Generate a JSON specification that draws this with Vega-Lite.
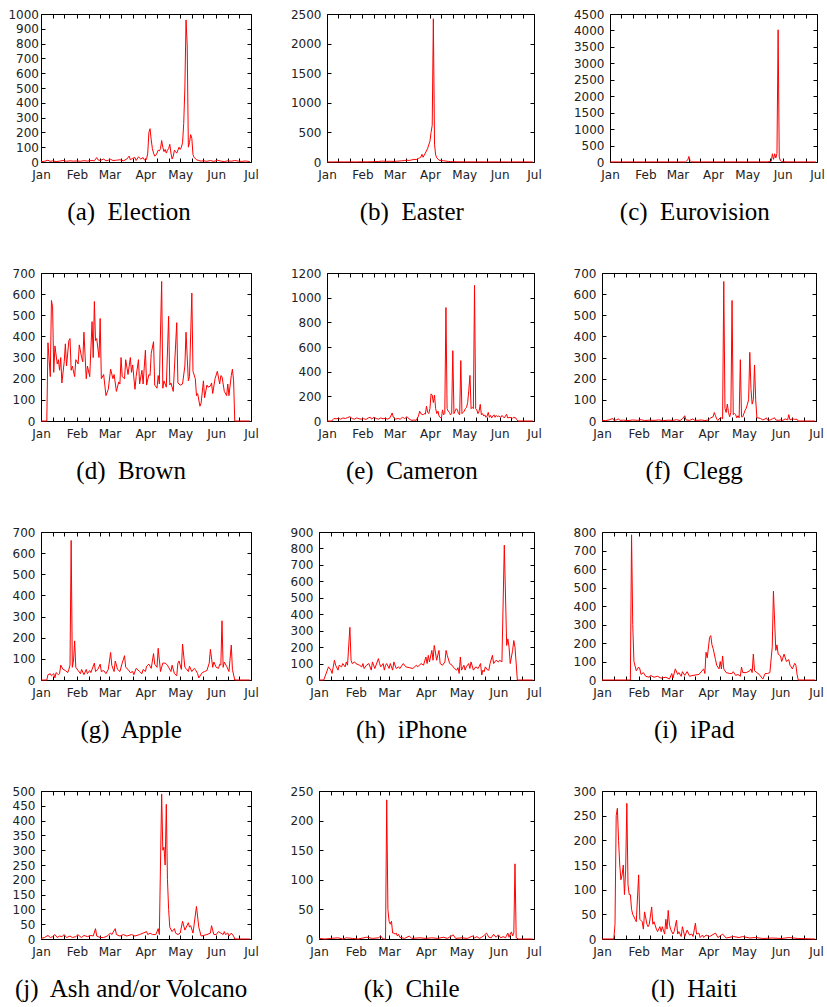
{
 "$schema": "https://vega.github.io/schema/vega-lite/v6.json",
 "padding": {"left": 7, "top": 7, "right": 0, "bottom": 0},
 "background": "white",
 "spacing": 40,
 "datasets": {
  "a": [{"t":"2010-01-01","v":2},{"t":"2010-01-04","v":5},{"t":"2010-01-07","v":12},{"t":"2010-01-09","v":4},{"t":"2010-01-11","v":8},{"t":"2010-01-14","v":3},{"t":"2010-01-17","v":6},{"t":"2010-01-20","v":10},{"t":"2010-01-23","v":5},{"t":"2010-01-26","v":8},{"t":"2010-01-29","v":6},{"t":"2010-02-01","v":7},{"t":"2010-02-04","v":5},{"t":"2010-02-07","v":9},{"t":"2010-02-10","v":6},{"t":"2010-02-13","v":10},{"t":"2010-02-16","v":8},{"t":"2010-02-18","v":30},{"t":"2010-02-19","v":15},{"t":"2010-02-21","v":10},{"t":"2010-02-24","v":20},{"t":"2010-02-26","v":8},{"t":"2010-02-28","v":12},{"t":"2010-03-02","v":18},{"t":"2010-03-04","v":10},{"t":"2010-03-07","v":12},{"t":"2010-03-10","v":15},{"t":"2010-03-13","v":8},{"t":"2010-03-16","v":20},{"t":"2010-03-18","v":40},{"t":"2010-03-19","v":15},{"t":"2010-03-21","v":25},{"t":"2010-03-23","v":30},{"t":"2010-03-24","v":10},{"t":"2010-03-26","v":35},{"t":"2010-03-28","v":20},{"t":"2010-03-30","v":30},{"t":"2010-03-31","v":15},{"t":"2010-04-01","v":10},{"t":"2010-04-02","v":20},{"t":"2010-04-03","v":60},{"t":"2010-04-04","v":200},{"t":"2010-04-05","v":225},{"t":"2010-04-06","v":150},{"t":"2010-04-07","v":90},{"t":"2010-04-08","v":60},{"t":"2010-04-09","v":40},{"t":"2010-04-10","v":45},{"t":"2010-04-11","v":60},{"t":"2010-04-12","v":80},{"t":"2010-04-13","v":75},{"t":"2010-04-14","v":90},{"t":"2010-04-15","v":145},{"t":"2010-04-16","v":100},{"t":"2010-04-17","v":70},{"t":"2010-04-18","v":85},{"t":"2010-04-19","v":60},{"t":"2010-04-20","v":80},{"t":"2010-04-21","v":90},{"t":"2010-04-22","v":120},{"t":"2010-04-23","v":60},{"t":"2010-04-24","v":20},{"t":"2010-04-25","v":40},{"t":"2010-04-26","v":80},{"t":"2010-04-27","v":70},{"t":"2010-04-28","v":60},{"t":"2010-04-29","v":80},{"t":"2010-04-30","v":100},{"t":"2010-05-01","v":85},{"t":"2010-05-02","v":100},{"t":"2010-05-03","v":130},{"t":"2010-05-04","v":260},{"t":"2010-05-05","v":500},{"t":"2010-05-06","v":960},{"t":"2010-05-07","v":790},{"t":"2010-05-08","v":100},{"t":"2010-05-09","v":130},{"t":"2010-05-10","v":185},{"t":"2010-05-11","v":160},{"t":"2010-05-12","v":50},{"t":"2010-05-13","v":30},{"t":"2010-05-14","v":25},{"t":"2010-05-15","v":15},{"t":"2010-05-17","v":10},{"t":"2010-05-19","v":6},{"t":"2010-05-21","v":8},{"t":"2010-05-24","v":5},{"t":"2010-05-27","v":10},{"t":"2010-05-30","v":4},{"t":"2010-06-02","v":12},{"t":"2010-06-05","v":6},{"t":"2010-06-08","v":3},{"t":"2010-06-11","v":8},{"t":"2010-06-14","v":5},{"t":"2010-06-17","v":10},{"t":"2010-06-20","v":6},{"t":"2010-06-23","v":4},{"t":"2010-06-26","v":7},{"t":"2010-06-30","v":3}],
  "b": [{"t":"2010-01-01","v":2},{"t":"2010-01-06","v":1},{"t":"2010-01-11","v":2},{"t":"2010-01-16","v":1},{"t":"2010-01-21","v":2},{"t":"2010-01-26","v":1},{"t":"2010-01-31","v":3},{"t":"2010-02-05","v":2},{"t":"2010-02-10","v":5},{"t":"2010-02-15","v":8},{"t":"2010-02-18","v":15},{"t":"2010-02-22","v":10},{"t":"2010-02-25","v":12},{"t":"2010-03-01","v":10},{"t":"2010-03-04","v":15},{"t":"2010-03-07","v":20},{"t":"2010-03-10","v":25},{"t":"2010-03-12","v":30},{"t":"2010-03-14","v":25},{"t":"2010-03-16","v":35},{"t":"2010-03-18","v":45},{"t":"2010-03-20","v":40},{"t":"2010-03-22","v":60},{"t":"2010-03-23","v":70},{"t":"2010-03-24","v":80},{"t":"2010-03-25","v":130},{"t":"2010-03-26","v":80},{"t":"2010-03-28","v":150},{"t":"2010-03-30","v":230},{"t":"2010-04-01","v":350},{"t":"2010-04-02","v":500},{"t":"2010-04-03","v":620},{"t":"2010-04-04","v":2420},{"t":"2010-04-05","v":300},{"t":"2010-04-06","v":120},{"t":"2010-04-07","v":70},{"t":"2010-04-08","v":50},{"t":"2010-04-09","v":30},{"t":"2010-04-11","v":25},{"t":"2010-04-13","v":20},{"t":"2010-04-15","v":15},{"t":"2010-04-17","v":10},{"t":"2010-04-19","v":8},{"t":"2010-04-21","v":5},{"t":"2010-04-25","v":3},{"t":"2010-05-01","v":2},{"t":"2010-05-11","v":2},{"t":"2010-05-21","v":1},{"t":"2010-05-31","v":2},{"t":"2010-06-10","v":1},{"t":"2010-06-20","v":2},{"t":"2010-06-30","v":1}],
  "c": [{"t":"2010-01-01","v":2},{"t":"2010-01-11","v":1},{"t":"2010-01-21","v":2},{"t":"2010-01-31","v":1},{"t":"2010-02-10","v":3},{"t":"2010-02-20","v":2},{"t":"2010-03-02","v":3},{"t":"2010-03-08","v":2},{"t":"2010-03-10","v":60},{"t":"2010-03-11","v":170},{"t":"2010-03-12","v":40},{"t":"2010-03-13","v":5},{"t":"2010-03-22","v":2},{"t":"2010-04-01","v":3},{"t":"2010-04-11","v":2},{"t":"2010-04-21","v":3},{"t":"2010-05-01","v":2},{"t":"2010-05-11","v":3},{"t":"2010-05-19","v":5},{"t":"2010-05-22","v":20},{"t":"2010-05-23","v":250},{"t":"2010-05-24","v":80},{"t":"2010-05-25","v":250},{"t":"2010-05-26","v":120},{"t":"2010-05-27","v":260},{"t":"2010-05-28","v":4020},{"t":"2010-05-29","v":150},{"t":"2010-05-30","v":40},{"t":"2010-05-31","v":10},{"t":"2010-06-05","v":3},{"t":"2010-06-15","v":2},{"t":"2010-06-30","v":1}],
  "d": [{"t":"2010-01-01","v":0},{"t":"2010-01-06","v":0},{"t":"2010-01-07","v":370},{"t":"2010-01-09","v":210},{"t":"2010-01-10","v":570},{"t":"2010-01-11","v":540},{"t":"2010-01-12","v":230},{"t":"2010-01-13","v":355},{"t":"2010-01-15","v":270},{"t":"2010-01-16","v":290},{"t":"2010-01-17","v":240},{"t":"2010-01-18","v":300},{"t":"2010-01-19","v":180},{"t":"2010-01-21","v":280},{"t":"2010-01-22","v":365},{"t":"2010-01-23","v":260},{"t":"2010-01-25","v":380},{"t":"2010-01-26","v":390},{"t":"2010-01-27","v":240},{"t":"2010-01-28","v":260},{"t":"2010-01-30","v":210},{"t":"2010-01-31","v":290},{"t":"2010-02-02","v":270},{"t":"2010-02-03","v":360},{"t":"2010-02-05","v":300},{"t":"2010-02-06","v":280},{"t":"2010-02-07","v":420},{"t":"2010-02-09","v":200},{"t":"2010-02-10","v":260},{"t":"2010-02-12","v":210},{"t":"2010-02-14","v":470},{"t":"2010-02-15","v":300},{"t":"2010-02-16","v":565},{"t":"2010-02-17","v":380},{"t":"2010-02-18","v":390},{"t":"2010-02-20","v":300},{"t":"2010-02-21","v":485},{"t":"2010-02-22","v":200},{"t":"2010-02-24","v":220},{"t":"2010-02-26","v":120},{"t":"2010-02-28","v":150},{"t":"2010-03-02","v":245},{"t":"2010-03-04","v":200},{"t":"2010-03-05","v":220},{"t":"2010-03-07","v":140},{"t":"2010-03-09","v":185},{"t":"2010-03-10","v":175},{"t":"2010-03-11","v":300},{"t":"2010-03-12","v":210},{"t":"2010-03-14","v":200},{"t":"2010-03-15","v":290},{"t":"2010-03-17","v":220},{"t":"2010-03-19","v":300},{"t":"2010-03-20","v":230},{"t":"2010-03-21","v":265},{"t":"2010-03-23","v":150},{"t":"2010-03-24","v":210},{"t":"2010-03-26","v":290},{"t":"2010-03-27","v":175},{"t":"2010-03-29","v":240},{"t":"2010-03-30","v":175},{"t":"2010-04-01","v":335},{"t":"2010-04-02","v":170},{"t":"2010-04-04","v":220},{"t":"2010-04-05","v":215},{"t":"2010-04-06","v":320},{"t":"2010-04-08","v":375},{"t":"2010-04-09","v":170},{"t":"2010-04-11","v":155},{"t":"2010-04-12","v":215},{"t":"2010-04-13","v":175},{"t":"2010-04-15","v":660},{"t":"2010-04-16","v":155},{"t":"2010-04-17","v":190},{"t":"2010-04-19","v":160},{"t":"2010-04-21","v":495},{"t":"2010-04-22","v":170},{"t":"2010-04-23","v":180},{"t":"2010-04-25","v":140},{"t":"2010-04-28","v":465},{"t":"2010-04-29","v":180},{"t":"2010-05-01","v":170},{"t":"2010-05-03","v":175},{"t":"2010-05-05","v":260},{"t":"2010-05-06","v":420},{"t":"2010-05-08","v":190},{"t":"2010-05-09","v":210},{"t":"2010-05-11","v":605},{"t":"2010-05-12","v":235},{"t":"2010-05-14","v":200},{"t":"2010-05-15","v":120},{"t":"2010-05-16","v":130},{"t":"2010-05-18","v":70},{"t":"2010-05-19","v":85},{"t":"2010-05-21","v":190},{"t":"2010-05-22","v":110},{"t":"2010-05-24","v":170},{"t":"2010-05-25","v":160},{"t":"2010-05-27","v":165},{"t":"2010-05-28","v":180},{"t":"2010-05-29","v":130},{"t":"2010-05-31","v":200},{"t":"2010-06-02","v":235},{"t":"2010-06-04","v":175},{"t":"2010-06-05","v":215},{"t":"2010-06-06","v":210},{"t":"2010-06-08","v":140},{"t":"2010-06-10","v":120},{"t":"2010-06-11","v":175},{"t":"2010-06-12","v":120},{"t":"2010-06-14","v":215},{"t":"2010-06-15","v":245},{"t":"2010-06-16","v":190},{"t":"2010-06-17","v":0},{"t":"2010-06-30","v":0}],
  "e": [{"t":"2010-01-01","v":0},{"t":"2010-01-05","v":0},{"t":"2010-01-07","v":20},{"t":"2010-01-09","v":18},{"t":"2010-01-11","v":22},{"t":"2010-01-13","v":15},{"t":"2010-01-15","v":25},{"t":"2010-01-17","v":20},{"t":"2010-01-19","v":28},{"t":"2010-01-21","v":35},{"t":"2010-01-23","v":20},{"t":"2010-01-25","v":15},{"t":"2010-01-27","v":25},{"t":"2010-01-29","v":18},{"t":"2010-01-31","v":15},{"t":"2010-02-02","v":20},{"t":"2010-02-04","v":12},{"t":"2010-02-06","v":25},{"t":"2010-02-08","v":30},{"t":"2010-02-09","v":15},{"t":"2010-02-11","v":30},{"t":"2010-02-13","v":20},{"t":"2010-02-15","v":15},{"t":"2010-02-17","v":25},{"t":"2010-02-19","v":18},{"t":"2010-02-21","v":22},{"t":"2010-02-23","v":15},{"t":"2010-02-25","v":25},{"t":"2010-02-27","v":65},{"t":"2010-02-28","v":30},{"t":"2010-03-02","v":15},{"t":"2010-03-04","v":20},{"t":"2010-03-06","v":15},{"t":"2010-03-08","v":30},{"t":"2010-03-10","v":20},{"t":"2010-03-12","v":35},{"t":"2010-03-14","v":15},{"t":"2010-03-16","v":5},{"t":"2010-03-18","v":8},{"t":"2010-03-20","v":5},{"t":"2010-03-22","v":40},{"t":"2010-03-23","v":80},{"t":"2010-03-24","v":60},{"t":"2010-03-26","v":50},{"t":"2010-03-27","v":60},{"t":"2010-03-28","v":55},{"t":"2010-03-29","v":120},{"t":"2010-03-30","v":70},{"t":"2010-03-31","v":60},{"t":"2010-04-01","v":100},{"t":"2010-04-02","v":220},{"t":"2010-04-03","v":210},{"t":"2010-04-04","v":150},{"t":"2010-04-05","v":210},{"t":"2010-04-06","v":100},{"t":"2010-04-07","v":60},{"t":"2010-04-08","v":80},{"t":"2010-04-09","v":40},{"t":"2010-04-11","v":20},{"t":"2010-04-12","v":90},{"t":"2010-04-13","v":50},{"t":"2010-04-14","v":60},{"t":"2010-04-15","v":920},{"t":"2010-04-16","v":100},{"t":"2010-04-17","v":80},{"t":"2010-04-18","v":70},{"t":"2010-04-19","v":50},{"t":"2010-04-20","v":60},{"t":"2010-04-21","v":570},{"t":"2010-04-22","v":60},{"t":"2010-04-23","v":80},{"t":"2010-04-24","v":100},{"t":"2010-04-25","v":90},{"t":"2010-04-26","v":60},{"t":"2010-04-27","v":50},{"t":"2010-04-28","v":490},{"t":"2010-04-29","v":60},{"t":"2010-04-30","v":70},{"t":"2010-05-01","v":80},{"t":"2010-05-02","v":100},{"t":"2010-05-03","v":110},{"t":"2010-05-04","v":150},{"t":"2010-05-05","v":250},{"t":"2010-05-06","v":370},{"t":"2010-05-07","v":100},{"t":"2010-05-08","v":110},{"t":"2010-05-09","v":100},{"t":"2010-05-10","v":1100},{"t":"2010-05-11","v":100},{"t":"2010-05-12","v":90},{"t":"2010-05-13","v":60},{"t":"2010-05-14","v":80},{"t":"2010-05-15","v":135},{"t":"2010-05-16","v":50},{"t":"2010-05-17","v":60},{"t":"2010-05-18","v":40},{"t":"2010-05-19","v":50},{"t":"2010-05-20","v":30},{"t":"2010-05-21","v":40},{"t":"2010-05-22","v":70},{"t":"2010-05-23","v":30},{"t":"2010-05-24","v":45},{"t":"2010-05-25","v":25},{"t":"2010-05-26","v":40},{"t":"2010-05-27","v":50},{"t":"2010-05-28","v":30},{"t":"2010-05-29","v":45},{"t":"2010-05-30","v":35},{"t":"2010-05-31","v":40},{"t":"2010-06-02","v":30},{"t":"2010-06-03","v":45},{"t":"2010-06-05","v":25},{"t":"2010-06-07","v":55},{"t":"2010-06-08","v":25},{"t":"2010-06-10","v":30},{"t":"2010-06-12","v":20},{"t":"2010-06-13","v":30},{"t":"2010-06-15","v":25},{"t":"2010-06-16","v":10},{"t":"2010-06-17","v":0},{"t":"2010-06-30","v":0}],
  "f": [{"t":"2010-01-01","v":3},{"t":"2010-01-04","v":2},{"t":"2010-01-07","v":5},{"t":"2010-01-10","v":12},{"t":"2010-01-11","v":3},{"t":"2010-01-13","v":5},{"t":"2010-01-15","v":10},{"t":"2010-01-16","v":3},{"t":"2010-01-19","v":4},{"t":"2010-01-23","v":2},{"t":"2010-01-27","v":5},{"t":"2010-01-31","v":3},{"t":"2010-02-03","v":6},{"t":"2010-02-06","v":2},{"t":"2010-02-10","v":4},{"t":"2010-02-14","v":3},{"t":"2010-02-18","v":5},{"t":"2010-02-22","v":2},{"t":"2010-02-26","v":4},{"t":"2010-03-02","v":3},{"t":"2010-03-05","v":6},{"t":"2010-03-08","v":2},{"t":"2010-03-10","v":10},{"t":"2010-03-12","v":25},{"t":"2010-03-13","v":5},{"t":"2010-03-16","v":3},{"t":"2010-03-19","v":10},{"t":"2010-03-20","v":4},{"t":"2010-03-23","v":3},{"t":"2010-03-26","v":5},{"t":"2010-03-29","v":2},{"t":"2010-04-01","v":5},{"t":"2010-04-03","v":15},{"t":"2010-04-05","v":20},{"t":"2010-04-06","v":40},{"t":"2010-04-07","v":25},{"t":"2010-04-08","v":10},{"t":"2010-04-09","v":2},{"t":"2010-04-10","v":10},{"t":"2010-04-11","v":15},{"t":"2010-04-12","v":15},{"t":"2010-04-13","v":10},{"t":"2010-04-14","v":660},{"t":"2010-04-15","v":60},{"t":"2010-04-16","v":40},{"t":"2010-04-17","v":80},{"t":"2010-04-18","v":40},{"t":"2010-04-19","v":20},{"t":"2010-04-20","v":40},{"t":"2010-04-21","v":570},{"t":"2010-04-22","v":30},{"t":"2010-04-23","v":35},{"t":"2010-04-24","v":30},{"t":"2010-04-25","v":15},{"t":"2010-04-26","v":25},{"t":"2010-04-27","v":15},{"t":"2010-04-28","v":290},{"t":"2010-04-29","v":20},{"t":"2010-04-30","v":20},{"t":"2010-05-01","v":35},{"t":"2010-05-02","v":50},{"t":"2010-05-03","v":60},{"t":"2010-05-04","v":80},{"t":"2010-05-05","v":100},{"t":"2010-05-06","v":325},{"t":"2010-05-07","v":150},{"t":"2010-05-08","v":80},{"t":"2010-05-09","v":100},{"t":"2010-05-10","v":265},{"t":"2010-05-11","v":100},{"t":"2010-05-12","v":15},{"t":"2010-05-13","v":15},{"t":"2010-05-15","v":12},{"t":"2010-05-17","v":5},{"t":"2010-05-19","v":10},{"t":"2010-05-20","v":15},{"t":"2010-05-21","v":5},{"t":"2010-05-23","v":4},{"t":"2010-05-25","v":10},{"t":"2010-05-27","v":15},{"t":"2010-05-28","v":5},{"t":"2010-05-30","v":3},{"t":"2010-06-01","v":5},{"t":"2010-06-03","v":3},{"t":"2010-06-05","v":10},{"t":"2010-06-07","v":5},{"t":"2010-06-08","v":30},{"t":"2010-06-09","v":5},{"t":"2010-06-11","v":10},{"t":"2010-06-13","v":8},{"t":"2010-06-15","v":8},{"t":"2010-06-16","v":0},{"t":"2010-06-30","v":0}],
  "g": [{"t":"2010-01-01","v":0},{"t":"2010-01-06","v":0},{"t":"2010-01-07","v":25},{"t":"2010-01-09","v":30},{"t":"2010-01-10","v":20},{"t":"2010-01-12","v":30},{"t":"2010-01-13","v":10},{"t":"2010-01-14","v":35},{"t":"2010-01-16","v":25},{"t":"2010-01-17","v":30},{"t":"2010-01-18","v":70},{"t":"2010-01-20","v":50},{"t":"2010-01-22","v":45},{"t":"2010-01-24","v":35},{"t":"2010-01-25","v":50},{"t":"2010-01-26","v":70},{"t":"2010-01-27","v":660},{"t":"2010-01-28","v":60},{"t":"2010-01-29","v":90},{"t":"2010-01-30","v":185},{"t":"2010-01-31","v":60},{"t":"2010-02-02","v":45},{"t":"2010-02-04","v":30},{"t":"2010-02-05","v":50},{"t":"2010-02-07","v":25},{"t":"2010-02-09","v":50},{"t":"2010-02-10","v":30},{"t":"2010-02-12","v":45},{"t":"2010-02-13","v":35},{"t":"2010-02-16","v":80},{"t":"2010-02-17","v":40},{"t":"2010-02-19","v":50},{"t":"2010-02-21","v":75},{"t":"2010-02-22","v":40},{"t":"2010-02-24","v":45},{"t":"2010-02-26","v":30},{"t":"2010-02-28","v":50},{"t":"2010-03-02","v":130},{"t":"2010-03-03","v":70},{"t":"2010-03-05","v":40},{"t":"2010-03-06","v":90},{"t":"2010-03-08","v":50},{"t":"2010-03-10","v":40},{"t":"2010-03-12","v":80},{"t":"2010-03-14","v":115},{"t":"2010-03-15","v":60},{"t":"2010-03-17","v":50},{"t":"2010-03-19","v":35},{"t":"2010-03-21","v":40},{"t":"2010-03-22","v":25},{"t":"2010-03-24","v":55},{"t":"2010-03-27","v":40},{"t":"2010-03-29","v":30},{"t":"2010-03-30","v":50},{"t":"2010-04-01","v":40},{"t":"2010-04-02","v":65},{"t":"2010-04-04","v":75},{"t":"2010-04-06","v":55},{"t":"2010-04-08","v":125},{"t":"2010-04-09","v":75},{"t":"2010-04-11","v":60},{"t":"2010-04-12","v":150},{"t":"2010-04-14","v":40},{"t":"2010-04-16","v":80},{"t":"2010-04-18","v":80},{"t":"2010-04-20","v":70},{"t":"2010-04-21","v":60},{"t":"2010-04-23","v":40},{"t":"2010-04-24","v":70},{"t":"2010-04-26","v":30},{"t":"2010-04-28","v":20},{"t":"2010-04-29","v":80},{"t":"2010-04-30","v":90},{"t":"2010-05-02","v":50},{"t":"2010-05-03","v":170},{"t":"2010-05-05","v":60},{"t":"2010-05-06","v":55},{"t":"2010-05-08","v":40},{"t":"2010-05-09","v":65},{"t":"2010-05-11","v":40},{"t":"2010-05-13","v":55},{"t":"2010-05-14","v":50},{"t":"2010-05-16","v":30},{"t":"2010-05-17","v":10},{"t":"2010-05-20","v":35},{"t":"2010-05-22","v":40},{"t":"2010-05-24","v":45},{"t":"2010-05-26","v":80},{"t":"2010-05-27","v":145},{"t":"2010-05-29","v":60},{"t":"2010-05-30","v":85},{"t":"2010-06-01","v":60},{"t":"2010-06-03","v":55},{"t":"2010-06-04","v":75},{"t":"2010-06-05","v":70},{"t":"2010-06-06","v":280},{"t":"2010-06-07","v":60},{"t":"2010-06-08","v":85},{"t":"2010-06-10","v":65},{"t":"2010-06-12","v":40},{"t":"2010-06-14","v":165},{"t":"2010-06-15","v":50},{"t":"2010-06-17","v":0},{"t":"2010-06-30","v":0}],
  "h": [{"t":"2010-01-01","v":0},{"t":"2010-01-05","v":0},{"t":"2010-01-08","v":60},{"t":"2010-01-09","v":80},{"t":"2010-01-11","v":60},{"t":"2010-01-12","v":40},{"t":"2010-01-13","v":80},{"t":"2010-01-14","v":120},{"t":"2010-01-15","v":90},{"t":"2010-01-17","v":60},{"t":"2010-01-18","v":90},{"t":"2010-01-20","v":80},{"t":"2010-01-21","v":100},{"t":"2010-01-23","v":80},{"t":"2010-01-24","v":110},{"t":"2010-01-25","v":90},{"t":"2010-01-27","v":320},{"t":"2010-01-28","v":120},{"t":"2010-01-29","v":100},{"t":"2010-01-31","v":110},{"t":"2010-02-01","v":100},{"t":"2010-02-04","v":90},{"t":"2010-02-06","v":80},{"t":"2010-02-07","v":100},{"t":"2010-02-08","v":70},{"t":"2010-02-10","v":90},{"t":"2010-02-12","v":100},{"t":"2010-02-14","v":60},{"t":"2010-02-15","v":110},{"t":"2010-02-17","v":70},{"t":"2010-02-20","v":130},{"t":"2010-02-21","v":100},{"t":"2010-02-22","v":80},{"t":"2010-02-24","v":100},{"t":"2010-02-25","v":60},{"t":"2010-02-26","v":90},{"t":"2010-02-27","v":100},{"t":"2010-03-01","v":70},{"t":"2010-03-02","v":100},{"t":"2010-03-04","v":60},{"t":"2010-03-05","v":110},{"t":"2010-03-07","v":70},{"t":"2010-03-09","v":80},{"t":"2010-03-10","v":70},{"t":"2010-03-13","v":100},{"t":"2010-03-15","v":80},{"t":"2010-03-18","v":75},{"t":"2010-03-21","v":70},{"t":"2010-03-24","v":90},{"t":"2010-03-25","v":80},{"t":"2010-03-28","v":100},{"t":"2010-03-30","v":90},{"t":"2010-04-01","v":140},{"t":"2010-04-02","v":100},{"t":"2010-04-03","v":150},{"t":"2010-04-04","v":110},{"t":"2010-04-06","v":180},{"t":"2010-04-07","v":120},{"t":"2010-04-08","v":210},{"t":"2010-04-09","v":170},{"t":"2010-04-10","v":120},{"t":"2010-04-12","v":180},{"t":"2010-04-13","v":100},{"t":"2010-04-15","v":90},{"t":"2010-04-17","v":110},{"t":"2010-04-18","v":180},{"t":"2010-04-19","v":150},{"t":"2010-04-21","v":100},{"t":"2010-04-23","v":90},{"t":"2010-04-25","v":70},{"t":"2010-04-27","v":60},{"t":"2010-04-28","v":75},{"t":"2010-04-29","v":40},{"t":"2010-04-30","v":140},{"t":"2010-05-01","v":60},{"t":"2010-05-03","v":90},{"t":"2010-05-04","v":60},{"t":"2010-05-05","v":80},{"t":"2010-05-07","v":100},{"t":"2010-05-08","v":70},{"t":"2010-05-09","v":110},{"t":"2010-05-11","v":60},{"t":"2010-05-13","v":80},{"t":"2010-05-15","v":70},{"t":"2010-05-17","v":100},{"t":"2010-05-18","v":30},{"t":"2010-05-19","v":60},{"t":"2010-05-20","v":50},{"t":"2010-05-21","v":80},{"t":"2010-05-23","v":60},{"t":"2010-05-24","v":60},{"t":"2010-05-25","v":100},{"t":"2010-05-27","v":150},{"t":"2010-05-28","v":100},{"t":"2010-05-30","v":120},{"t":"2010-06-01","v":110},{"t":"2010-06-02","v":120},{"t":"2010-06-04","v":110},{"t":"2010-06-06","v":820},{"t":"2010-06-08","v":210},{"t":"2010-06-09","v":250},{"t":"2010-06-10","v":200},{"t":"2010-06-11","v":100},{"t":"2010-06-13","v":180},{"t":"2010-06-14","v":240},{"t":"2010-06-15","v":200},{"t":"2010-06-17","v":0},{"t":"2010-06-30","v":0}],
  "i": [{"t":"2010-01-01","v":0},{"t":"2010-01-25","v":0},{"t":"2010-01-26","v":785},{"t":"2010-01-27","v":300},{"t":"2010-01-28","v":100},{"t":"2010-01-30","v":50},{"t":"2010-02-01","v":70},{"t":"2010-02-02","v":60},{"t":"2010-02-03","v":30},{"t":"2010-02-05","v":40},{"t":"2010-02-07","v":20},{"t":"2010-02-10","v":15},{"t":"2010-02-11","v":25},{"t":"2010-02-14","v":15},{"t":"2010-02-17","v":20},{"t":"2010-02-20","v":10},{"t":"2010-02-24","v":15},{"t":"2010-02-27","v":5},{"t":"2010-03-01","v":35},{"t":"2010-03-02","v":10},{"t":"2010-03-04","v":60},{"t":"2010-03-06","v":30},{"t":"2010-03-07","v":40},{"t":"2010-03-09","v":20},{"t":"2010-03-10","v":45},{"t":"2010-03-12","v":25},{"t":"2010-03-14","v":45},{"t":"2010-03-16","v":20},{"t":"2010-03-19","v":25},{"t":"2010-03-24","v":30},{"t":"2010-03-28","v":60},{"t":"2010-03-29","v":35},{"t":"2010-03-30","v":150},{"t":"2010-03-31","v":120},{"t":"2010-04-02","v":230},{"t":"2010-04-03","v":240},{"t":"2010-04-04","v":190},{"t":"2010-04-05","v":170},{"t":"2010-04-07","v":110},{"t":"2010-04-08","v":80},{"t":"2010-04-10","v":60},{"t":"2010-04-11","v":100},{"t":"2010-04-12","v":60},{"t":"2010-04-13","v":130},{"t":"2010-04-14","v":60},{"t":"2010-04-16","v":40},{"t":"2010-04-19","v":35},{"t":"2010-04-21","v":35},{"t":"2010-04-22","v":45},{"t":"2010-04-24","v":25},{"t":"2010-04-26","v":30},{"t":"2010-04-28","v":20},{"t":"2010-04-29","v":70},{"t":"2010-04-30","v":40},{"t":"2010-05-03","v":40},{"t":"2010-05-06","v":50},{"t":"2010-05-07","v":60},{"t":"2010-05-08","v":40},{"t":"2010-05-09","v":140},{"t":"2010-05-10","v":50},{"t":"2010-05-12","v":40},{"t":"2010-05-14","v":30},{"t":"2010-05-17","v":5},{"t":"2010-05-19","v":35},{"t":"2010-05-21","v":35},{"t":"2010-05-23","v":40},{"t":"2010-05-25","v":180},{"t":"2010-05-26","v":480},{"t":"2010-05-28","v":160},{"t":"2010-05-29","v":190},{"t":"2010-05-30","v":140},{"t":"2010-06-01","v":130},{"t":"2010-06-02","v":100},{"t":"2010-06-04","v":140},{"t":"2010-06-06","v":100},{"t":"2010-06-08","v":110},{"t":"2010-06-09","v":80},{"t":"2010-06-11","v":60},{"t":"2010-06-13","v":90},{"t":"2010-06-14","v":80},{"t":"2010-06-15","v":30},{"t":"2010-06-16","v":0},{"t":"2010-06-30","v":0}],
  "j": [{"t":"2010-01-01","v":2},{"t":"2010-01-04","v":5},{"t":"2010-01-07","v":12},{"t":"2010-01-09","v":5},{"t":"2010-01-11","v":8},{"t":"2010-01-13","v":15},{"t":"2010-01-15","v":5},{"t":"2010-01-17","v":10},{"t":"2010-01-19","v":8},{"t":"2010-01-21","v":15},{"t":"2010-01-23","v":5},{"t":"2010-01-26","v":10},{"t":"2010-01-28","v":5},{"t":"2010-01-31","v":8},{"t":"2010-02-02","v":15},{"t":"2010-02-03","v":10},{"t":"2010-02-05","v":5},{"t":"2010-02-07","v":12},{"t":"2010-02-10","v":8},{"t":"2010-02-13","v":12},{"t":"2010-02-15","v":10},{"t":"2010-02-17","v":35},{"t":"2010-02-18","v":10},{"t":"2010-02-21","v":5},{"t":"2010-02-24","v":5},{"t":"2010-02-27","v":10},{"t":"2010-03-02","v":20},{"t":"2010-03-03","v":15},{"t":"2010-03-06","v":35},{"t":"2010-03-07","v":15},{"t":"2010-03-10","v":10},{"t":"2010-03-13","v":15},{"t":"2010-03-16","v":10},{"t":"2010-03-20","v":15},{"t":"2010-03-23","v":10},{"t":"2010-03-27","v":15},{"t":"2010-03-30","v":20},{"t":"2010-04-02","v":25},{"t":"2010-04-03","v":15},{"t":"2010-04-05","v":20},{"t":"2010-04-07","v":15},{"t":"2010-04-10","v":15},{"t":"2010-04-12","v":35},{"t":"2010-04-13","v":15},{"t":"2010-04-15","v":490},{"t":"2010-04-16","v":300},{"t":"2010-04-17","v":310},{"t":"2010-04-18","v":250},{"t":"2010-04-19","v":455},{"t":"2010-04-20","v":200},{"t":"2010-04-21","v":100},{"t":"2010-04-22","v":40},{"t":"2010-04-24","v":25},{"t":"2010-04-26","v":35},{"t":"2010-04-27","v":20},{"t":"2010-04-29","v":15},{"t":"2010-05-01","v":20},{"t":"2010-05-03","v":60},{"t":"2010-05-05","v":30},{"t":"2010-05-08","v":55},{"t":"2010-05-09","v":40},{"t":"2010-05-10","v":45},{"t":"2010-05-12","v":20},{"t":"2010-05-15","v":110},{"t":"2010-05-17","v":40},{"t":"2010-05-19","v":10},{"t":"2010-05-21","v":12},{"t":"2010-05-24","v":15},{"t":"2010-05-27","v":20},{"t":"2010-05-28","v":45},{"t":"2010-05-30","v":15},{"t":"2010-06-01","v":15},{"t":"2010-06-03","v":25},{"t":"2010-06-05","v":20},{"t":"2010-06-07","v":15},{"t":"2010-06-08","v":25},{"t":"2010-06-09","v":15},{"t":"2010-06-11","v":20},{"t":"2010-06-12","v":10},{"t":"2010-06-14","v":20},{"t":"2010-06-16","v":10},{"t":"2010-06-17","v":0},{"t":"2010-06-30","v":0}],
  "k": [{"t":"2010-01-01","v":1},{"t":"2010-01-06","v":0},{"t":"2010-01-11","v":1},{"t":"2010-01-17","v":2},{"t":"2010-01-21","v":0},{"t":"2010-01-24","v":2},{"t":"2010-01-29","v":1},{"t":"2010-02-03","v":0},{"t":"2010-02-10","v":3},{"t":"2010-02-15","v":1},{"t":"2010-02-20","v":2},{"t":"2010-02-22","v":5},{"t":"2010-02-24","v":0},{"t":"2010-02-26","v":0},{"t":"2010-02-27","v":235},{"t":"2010-02-28","v":50},{"t":"2010-03-01","v":30},{"t":"2010-03-02","v":25},{"t":"2010-03-03","v":30},{"t":"2010-03-04","v":10},{"t":"2010-03-05","v":10},{"t":"2010-03-06","v":8},{"t":"2010-03-07","v":10},{"t":"2010-03-08","v":5},{"t":"2010-03-09","v":8},{"t":"2010-03-10","v":3},{"t":"2010-03-12","v":2},{"t":"2010-03-14","v":1},{"t":"2010-03-18","v":5},{"t":"2010-03-20","v":1},{"t":"2010-03-27","v":2},{"t":"2010-04-01","v":1},{"t":"2010-04-06","v":2},{"t":"2010-04-11","v":1},{"t":"2010-04-16","v":3},{"t":"2010-04-19","v":1},{"t":"2010-04-24","v":7},{"t":"2010-04-26","v":1},{"t":"2010-05-01","v":2},{"t":"2010-05-06","v":1},{"t":"2010-05-10","v":5},{"t":"2010-05-12","v":2},{"t":"2010-05-14","v":4},{"t":"2010-05-16","v":1},{"t":"2010-05-18","v":3},{"t":"2010-05-20","v":6},{"t":"2010-05-22","v":10},{"t":"2010-05-24","v":3},{"t":"2010-05-26","v":2},{"t":"2010-05-28","v":8},{"t":"2010-05-30","v":3},{"t":"2010-06-01","v":7},{"t":"2010-06-03","v":2},{"t":"2010-06-05","v":4},{"t":"2010-06-07","v":2},{"t":"2010-06-09","v":10},{"t":"2010-06-10","v":3},{"t":"2010-06-11","v":8},{"t":"2010-06-12","v":12},{"t":"2010-06-13","v":5},{"t":"2010-06-14","v":10},{"t":"2010-06-15","v":127},{"t":"2010-06-16","v":2},{"t":"2010-06-18","v":0},{"t":"2010-06-30","v":0}],
  "l": [{"t":"2010-01-01","v":0},{"t":"2010-01-11","v":0},{"t":"2010-01-12","v":30},{"t":"2010-01-13","v":250},{"t":"2010-01-14","v":265},{"t":"2010-01-15","v":200},{"t":"2010-01-16","v":150},{"t":"2010-01-17","v":120},{"t":"2010-01-18","v":130},{"t":"2010-01-19","v":150},{"t":"2010-01-20","v":90},{"t":"2010-01-21","v":140},{"t":"2010-01-22","v":275},{"t":"2010-01-23","v":110},{"t":"2010-01-24","v":90},{"t":"2010-01-25","v":90},{"t":"2010-01-26","v":60},{"t":"2010-01-27","v":50},{"t":"2010-01-29","v":40},{"t":"2010-01-30","v":35},{"t":"2010-02-01","v":130},{"t":"2010-02-02","v":40},{"t":"2010-02-04","v":35},{"t":"2010-02-05","v":20},{"t":"2010-02-06","v":55},{"t":"2010-02-08","v":30},{"t":"2010-02-09","v":25},{"t":"2010-02-10","v":30},{"t":"2010-02-12","v":65},{"t":"2010-02-13","v":30},{"t":"2010-02-14","v":35},{"t":"2010-02-16","v":20},{"t":"2010-02-17","v":15},{"t":"2010-02-19","v":25},{"t":"2010-02-20","v":15},{"t":"2010-02-21","v":25},{"t":"2010-02-23","v":10},{"t":"2010-02-24","v":40},{"t":"2010-02-25","v":20},{"t":"2010-02-26","v":58},{"t":"2010-02-27","v":30},{"t":"2010-02-28","v":20},{"t":"2010-03-02","v":10},{"t":"2010-03-03","v":15},{"t":"2010-03-05","v":38},{"t":"2010-03-06","v":10},{"t":"2010-03-07","v":15},{"t":"2010-03-09","v":5},{"t":"2010-03-10","v":25},{"t":"2010-03-12","v":5},{"t":"2010-03-14","v":18},{"t":"2010-03-16","v":8},{"t":"2010-03-18","v":10},{"t":"2010-03-19","v":5},{"t":"2010-03-21","v":32},{"t":"2010-03-22","v":10},{"t":"2010-03-24","v":12},{"t":"2010-03-25","v":3},{"t":"2010-03-27","v":8},{"t":"2010-03-28","v":3},{"t":"2010-03-30","v":8},{"t":"2010-04-02","v":5},{"t":"2010-04-07","v":12},{"t":"2010-04-09","v":3},{"t":"2010-04-13","v":10},{"t":"2010-04-16","v":2},{"t":"2010-04-22","v":5},{"t":"2010-04-27","v":3},{"t":"2010-04-30","v":5},{"t":"2010-05-06","v":2},{"t":"2010-05-11","v":3},{"t":"2010-05-17","v":1},{"t":"2010-05-25","v":2},{"t":"2010-06-02","v":1},{"t":"2010-06-08","v":3},{"t":"2010-06-16","v":1},{"t":"2010-06-30","v":0}]
 },
 "vconcat": [
  {"spacing": 30, "hconcat": [
  {"width": 210, "height": 148, "data": {"name": "a"}, "title": {"text": "(a)\u00a0 Election"},
   "layer": [
    {"mark": "line", "encoding": {
      "x": {"field": "t", "type": "temporal", "scale": {"type": "utc", "domain": [1262304000000, 1277942400000]}, "axis": {"orient": "bottom", "title": null, "values": [1262304000000,1263168000000,1264032000000,1264982400000,1265846400000,1266710400000,1267401600000,1268265600000,1269129600000,1270080000000,1270944000000,1271808000000,1272672000000,1273536000000,1274400000000,1275350400000,1276214400000,1277078400000,1277942400000], "labelExpr": "utcdate(datum.value) == 1 ? utcFormat(datum.value, '%b') : ''"}},
      "y": {"field": "v", "type": "quantitative", "scale": {"domain": [0, 1000], "nice": false}, "axis": {"orient": "left", "title": null, "labelPadding": 6.5, "values": [0,100,200,300,400,500,600,700,800,900,1000]}}}},
    {"mark": {"type": "line", "opacity": 0}, "encoding": {
      "x": {"field": "t", "type": "temporal", "axis": {"orient": "top", "title": null, "labels": false, "values": [1262304000000,1263168000000,1264032000000,1264982400000,1265846400000,1266710400000,1267401600000,1268265600000,1269129600000,1270080000000,1270944000000,1271808000000,1272672000000,1273536000000,1274400000000,1275350400000,1276214400000,1277078400000,1277942400000]}},
      "y": {"field": "v", "type": "quantitative", "axis": {"orient": "right", "title": null, "labels": false, "values": [0,100,200,300,400,500,600,700,800,900,1000]}}}}
   ],
   "resolve": {"axis": {"x": "independent", "y": "independent"}}},
  {"width": 207, "height": 148, "data": {"name": "b"}, "title": {"text": "(b)\u00a0 Easter"},
   "layer": [
    {"mark": "line", "encoding": {
      "x": {"field": "t", "type": "temporal", "scale": {"type": "utc", "domain": [1262304000000, 1277942400000]}, "axis": {"orient": "bottom", "title": null, "values": [1262304000000,1263168000000,1264032000000,1264982400000,1265846400000,1266710400000,1267401600000,1268265600000,1269129600000,1270080000000,1270944000000,1271808000000,1272672000000,1273536000000,1274400000000,1275350400000,1276214400000,1277078400000,1277942400000], "labelExpr": "utcdate(datum.value) == 1 ? utcFormat(datum.value, '%b') : ''"}},
      "y": {"field": "v", "type": "quantitative", "scale": {"domain": [0, 2500], "nice": false}, "axis": {"orient": "left", "title": null, "values": [0,500,1000,1500,2000,2500]}}}},
    {"mark": {"type": "line", "opacity": 0}, "encoding": {
      "x": {"field": "t", "type": "temporal", "axis": {"orient": "top", "title": null, "labels": false, "values": [1262304000000,1263168000000,1264032000000,1264982400000,1265846400000,1266710400000,1267401600000,1268265600000,1269129600000,1270080000000,1270944000000,1271808000000,1272672000000,1273536000000,1274400000000,1275350400000,1276214400000,1277078400000,1277942400000]}},
      "y": {"field": "v", "type": "quantitative", "axis": {"orient": "right", "title": null, "labels": false, "values": [0,500,1000,1500,2000,2500]}}}}
   ],
   "resolve": {"axis": {"x": "independent", "y": "independent"}}},
  {"width": 207, "height": 148, "data": {"name": "c"}, "title": {"text": "(c)\u00a0 Eurovision"},
   "layer": [
    {"mark": "line", "encoding": {
      "x": {"field": "t", "type": "temporal", "scale": {"type": "utc", "domain": [1262304000000, 1277942400000]}, "axis": {"orient": "bottom", "title": null, "values": [1262304000000,1263168000000,1264032000000,1264982400000,1265846400000,1266710400000,1267401600000,1268265600000,1269129600000,1270080000000,1270944000000,1271808000000,1272672000000,1273536000000,1274400000000,1275350400000,1276214400000,1277078400000,1277942400000], "labelExpr": "utcdate(datum.value) == 1 ? utcFormat(datum.value, '%b') : ''"}},
      "y": {"field": "v", "type": "quantitative", "scale": {"domain": [0, 4500], "nice": false}, "axis": {"orient": "left", "title": null, "values": [0,500,1000,1500,2000,2500,3000,3500,4000,4500]}}}},
    {"mark": {"type": "line", "opacity": 0}, "encoding": {
      "x": {"field": "t", "type": "temporal", "axis": {"orient": "top", "title": null, "labels": false, "values": [1262304000000,1263168000000,1264032000000,1264982400000,1265846400000,1266710400000,1267401600000,1268265600000,1269129600000,1270080000000,1270944000000,1271808000000,1272672000000,1273536000000,1274400000000,1275350400000,1276214400000,1277078400000,1277942400000]}},
      "y": {"field": "v", "type": "quantitative", "axis": {"orient": "right", "title": null, "labels": false, "values": [0,500,1000,1500,2000,2500,3000,3500,4000,4500]}}}}
   ],
   "resolve": {"axis": {"x": "independent", "y": "independent"}}}
  ]},
  {"spacing": 30, "hconcat": [
  {"width": 210, "height": 148, "data": {"name": "d"}, "title": {"text": "(d)\u00a0 Brown"},
   "layer": [
    {"mark": "line", "encoding": {
      "x": {"field": "t", "type": "temporal", "scale": {"type": "utc", "domain": [1262304000000, 1277942400000]}, "axis": {"orient": "bottom", "title": null, "values": [1262304000000,1263168000000,1264032000000,1264982400000,1265846400000,1266710400000,1267401600000,1268265600000,1269129600000,1270080000000,1270944000000,1271808000000,1272672000000,1273536000000,1274400000000,1275350400000,1276214400000,1277078400000,1277942400000], "labelExpr": "utcdate(datum.value) == 1 ? utcFormat(datum.value, '%b') : ''"}},
      "y": {"field": "v", "type": "quantitative", "scale": {"domain": [0, 700], "nice": false}, "axis": {"orient": "left", "title": null, "values": [0,100,200,300,400,500,600,700]}}}},
    {"mark": {"type": "line", "opacity": 0}, "encoding": {
      "x": {"field": "t", "type": "temporal", "axis": {"orient": "top", "title": null, "labels": false, "values": [1262304000000,1263168000000,1264032000000,1264982400000,1265846400000,1266710400000,1267401600000,1268265600000,1269129600000,1270080000000,1270944000000,1271808000000,1272672000000,1273536000000,1274400000000,1275350400000,1276214400000,1277078400000,1277942400000]}},
      "y": {"field": "v", "type": "quantitative", "axis": {"orient": "right", "title": null, "labels": false, "values": [0,100,200,300,400,500,600,700]}}}}
   ],
   "resolve": {"axis": {"x": "independent", "y": "independent"}}},
  {"width": 207, "height": 148, "data": {"name": "e"}, "title": {"text": "(e)\u00a0 Cameron"},
   "layer": [
    {"mark": "line", "encoding": {
      "x": {"field": "t", "type": "temporal", "scale": {"type": "utc", "domain": [1262304000000, 1277942400000]}, "axis": {"orient": "bottom", "title": null, "values": [1262304000000,1263168000000,1264032000000,1264982400000,1265846400000,1266710400000,1267401600000,1268265600000,1269129600000,1270080000000,1270944000000,1271808000000,1272672000000,1273536000000,1274400000000,1275350400000,1276214400000,1277078400000,1277942400000], "labelExpr": "utcdate(datum.value) == 1 ? utcFormat(datum.value, '%b') : ''"}},
      "y": {"field": "v", "type": "quantitative", "scale": {"domain": [0, 1200], "nice": false}, "axis": {"orient": "left", "title": null, "values": [0,200,400,600,800,1000,1200]}}}},
    {"mark": {"type": "line", "opacity": 0}, "encoding": {
      "x": {"field": "t", "type": "temporal", "axis": {"orient": "top", "title": null, "labels": false, "values": [1262304000000,1263168000000,1264032000000,1264982400000,1265846400000,1266710400000,1267401600000,1268265600000,1269129600000,1270080000000,1270944000000,1271808000000,1272672000000,1273536000000,1274400000000,1275350400000,1276214400000,1277078400000,1277942400000]}},
      "y": {"field": "v", "type": "quantitative", "axis": {"orient": "right", "title": null, "labels": false, "values": [0,200,400,600,800,1000,1200]}}}}
   ],
   "resolve": {"axis": {"x": "independent", "y": "independent"}}},
  {"width": 214, "height": 148, "data": {"name": "f"}, "title": {"text": "(f)\u00a0 Clegg"},
   "layer": [
    {"mark": "line", "encoding": {
      "x": {"field": "t", "type": "temporal", "scale": {"type": "utc", "domain": [1262304000000, 1277942400000]}, "axis": {"orient": "bottom", "title": null, "values": [1262304000000,1263168000000,1264032000000,1264982400000,1265846400000,1266710400000,1267401600000,1268265600000,1269129600000,1270080000000,1270944000000,1271808000000,1272672000000,1273536000000,1274400000000,1275350400000,1276214400000,1277078400000,1277942400000], "labelExpr": "utcdate(datum.value) == 1 ? utcFormat(datum.value, '%b') : ''"}},
      "y": {"field": "v", "type": "quantitative", "scale": {"domain": [0, 700], "nice": false}, "axis": {"orient": "left", "title": null, "values": [0,100,200,300,400,500,600,700]}}}},
    {"mark": {"type": "line", "opacity": 0}, "encoding": {
      "x": {"field": "t", "type": "temporal", "axis": {"orient": "top", "title": null, "labels": false, "values": [1262304000000,1263168000000,1264032000000,1264982400000,1265846400000,1266710400000,1267401600000,1268265600000,1269129600000,1270080000000,1270944000000,1271808000000,1272672000000,1273536000000,1274400000000,1275350400000,1276214400000,1277078400000,1277942400000]}},
      "y": {"field": "v", "type": "quantitative", "axis": {"orient": "right", "title": null, "labels": false, "values": [0,100,200,300,400,500,600,700]}}}}
   ],
   "resolve": {"axis": {"x": "independent", "y": "independent"}}}
  ]},
  {"spacing": 30, "hconcat": [
  {"width": 210, "height": 148, "data": {"name": "g"}, "title": {"text": "(g)\u00a0 Apple"},
   "layer": [
    {"mark": "line", "encoding": {
      "x": {"field": "t", "type": "temporal", "scale": {"type": "utc", "domain": [1262304000000, 1277942400000]}, "axis": {"orient": "bottom", "title": null, "values": [1262304000000,1263168000000,1264032000000,1264982400000,1265846400000,1266710400000,1267401600000,1268265600000,1269129600000,1270080000000,1270944000000,1271808000000,1272672000000,1273536000000,1274400000000,1275350400000,1276214400000,1277078400000,1277942400000], "labelExpr": "utcdate(datum.value) == 1 ? utcFormat(datum.value, '%b') : ''"}},
      "y": {"field": "v", "type": "quantitative", "scale": {"domain": [0, 700], "nice": false}, "axis": {"orient": "left", "title": null, "values": [0,100,200,300,400,500,600,700]}}}},
    {"mark": {"type": "line", "opacity": 0}, "encoding": {
      "x": {"field": "t", "type": "temporal", "axis": {"orient": "top", "title": null, "labels": false, "values": [1262304000000,1263168000000,1264032000000,1264982400000,1265846400000,1266710400000,1267401600000,1268265600000,1269129600000,1270080000000,1270944000000,1271808000000,1272672000000,1273536000000,1274400000000,1275350400000,1276214400000,1277078400000,1277942400000]}},
      "y": {"field": "v", "type": "quantitative", "axis": {"orient": "right", "title": null, "labels": false, "values": [0,100,200,300,400,500,600,700]}}}}
   ],
   "resolve": {"axis": {"x": "independent", "y": "independent"}}},
  {"width": 215, "height": 148, "data": {"name": "h"}, "title": {"text": "(h)\u00a0 iPhone"},
   "layer": [
    {"mark": "line", "encoding": {
      "x": {"field": "t", "type": "temporal", "scale": {"type": "utc", "domain": [1262304000000, 1277942400000]}, "axis": {"orient": "bottom", "title": null, "values": [1262304000000,1263168000000,1264032000000,1264982400000,1265846400000,1266710400000,1267401600000,1268265600000,1269129600000,1270080000000,1270944000000,1271808000000,1272672000000,1273536000000,1274400000000,1275350400000,1276214400000,1277078400000,1277942400000], "labelExpr": "utcdate(datum.value) == 1 ? utcFormat(datum.value, '%b') : ''"}},
      "y": {"field": "v", "type": "quantitative", "scale": {"domain": [0, 900], "nice": false}, "axis": {"orient": "left", "title": null, "values": [0,100,200,300,400,500,600,700,800,900]}}}},
    {"mark": {"type": "line", "opacity": 0}, "encoding": {
      "x": {"field": "t", "type": "temporal", "axis": {"orient": "top", "title": null, "labels": false, "values": [1262304000000,1263168000000,1264032000000,1264982400000,1265846400000,1266710400000,1267401600000,1268265600000,1269129600000,1270080000000,1270944000000,1271808000000,1272672000000,1273536000000,1274400000000,1275350400000,1276214400000,1277078400000,1277942400000]}},
      "y": {"field": "v", "type": "quantitative", "axis": {"orient": "right", "title": null, "labels": false, "values": [0,100,200,300,400,500,600,700,800,900]}}}}
   ],
   "resolve": {"axis": {"x": "independent", "y": "independent"}}},
  {"width": 214, "height": 148, "data": {"name": "i"}, "title": {"text": "(i)\u00a0 iPad"},
   "layer": [
    {"mark": "line", "encoding": {
      "x": {"field": "t", "type": "temporal", "scale": {"type": "utc", "domain": [1262304000000, 1277942400000]}, "axis": {"orient": "bottom", "title": null, "values": [1262304000000,1263168000000,1264032000000,1264982400000,1265846400000,1266710400000,1267401600000,1268265600000,1269129600000,1270080000000,1270944000000,1271808000000,1272672000000,1273536000000,1274400000000,1275350400000,1276214400000,1277078400000,1277942400000], "labelExpr": "utcdate(datum.value) == 1 ? utcFormat(datum.value, '%b') : ''"}},
      "y": {"field": "v", "type": "quantitative", "scale": {"domain": [0, 800], "nice": false}, "axis": {"orient": "left", "title": null, "values": [0,100,200,300,400,500,600,700,800]}}}},
    {"mark": {"type": "line", "opacity": 0}, "encoding": {
      "x": {"field": "t", "type": "temporal", "axis": {"orient": "top", "title": null, "labels": false, "values": [1262304000000,1263168000000,1264032000000,1264982400000,1265846400000,1266710400000,1267401600000,1268265600000,1269129600000,1270080000000,1270944000000,1271808000000,1272672000000,1273536000000,1274400000000,1275350400000,1276214400000,1277078400000,1277942400000]}},
      "y": {"field": "v", "type": "quantitative", "axis": {"orient": "right", "title": null, "labels": false, "values": [0,100,200,300,400,500,600,700,800]}}}}
   ],
   "resolve": {"axis": {"x": "independent", "y": "independent"}}}
  ]},
  {"spacing": 30, "hconcat": [
  {"width": 210, "height": 148, "data": {"name": "j"}, "title": {"text": "(j)\u00a0 Ash and/or Volcano"},
   "layer": [
    {"mark": "line", "encoding": {
      "x": {"field": "t", "type": "temporal", "scale": {"type": "utc", "domain": [1262304000000, 1277942400000]}, "axis": {"orient": "bottom", "title": null, "values": [1262304000000,1263168000000,1264032000000,1264982400000,1265846400000,1266710400000,1267401600000,1268265600000,1269129600000,1270080000000,1270944000000,1271808000000,1272672000000,1273536000000,1274400000000,1275350400000,1276214400000,1277078400000,1277942400000], "labelExpr": "utcdate(datum.value) == 1 ? utcFormat(datum.value, '%b') : ''"}},
      "y": {"field": "v", "type": "quantitative", "scale": {"domain": [0, 500], "nice": false}, "axis": {"orient": "left", "title": null, "values": [0,50,100,150,200,250,300,350,400,450,500]}}}},
    {"mark": {"type": "line", "opacity": 0}, "encoding": {
      "x": {"field": "t", "type": "temporal", "axis": {"orient": "top", "title": null, "labels": false, "values": [1262304000000,1263168000000,1264032000000,1264982400000,1265846400000,1266710400000,1267401600000,1268265600000,1269129600000,1270080000000,1270944000000,1271808000000,1272672000000,1273536000000,1274400000000,1275350400000,1276214400000,1277078400000,1277942400000]}},
      "y": {"field": "v", "type": "quantitative", "axis": {"orient": "right", "title": null, "labels": false, "values": [0,50,100,150,200,250,300,350,400,450,500]}}}}
   ],
   "resolve": {"axis": {"x": "independent", "y": "independent"}}},
  {"width": 215, "height": 148, "data": {"name": "k"}, "title": {"text": "(k)\u00a0 Chile"},
   "layer": [
    {"mark": "line", "encoding": {
      "x": {"field": "t", "type": "temporal", "scale": {"type": "utc", "domain": [1262304000000, 1277942400000]}, "axis": {"orient": "bottom", "title": null, "values": [1262304000000,1263168000000,1264032000000,1264982400000,1265846400000,1266710400000,1267401600000,1268265600000,1269129600000,1270080000000,1270944000000,1271808000000,1272672000000,1273536000000,1274400000000,1275350400000,1276214400000,1277078400000,1277942400000], "labelExpr": "utcdate(datum.value) == 1 ? utcFormat(datum.value, '%b') : ''"}},
      "y": {"field": "v", "type": "quantitative", "scale": {"domain": [0, 250], "nice": false}, "axis": {"orient": "left", "title": null, "values": [0,50,100,150,200,250]}}}},
    {"mark": {"type": "line", "opacity": 0}, "encoding": {
      "x": {"field": "t", "type": "temporal", "axis": {"orient": "top", "title": null, "labels": false, "values": [1262304000000,1263168000000,1264032000000,1264982400000,1265846400000,1266710400000,1267401600000,1268265600000,1269129600000,1270080000000,1270944000000,1271808000000,1272672000000,1273536000000,1274400000000,1275350400000,1276214400000,1277078400000,1277942400000]}},
      "y": {"field": "v", "type": "quantitative", "axis": {"orient": "right", "title": null, "labels": false, "values": [0,50,100,150,200,250]}}}}
   ],
   "resolve": {"axis": {"x": "independent", "y": "independent"}}},
  {"width": 214, "height": 148, "data": {"name": "l"}, "title": {"text": "(l)\u00a0 Haiti"},
   "layer": [
    {"mark": "line", "encoding": {
      "x": {"field": "t", "type": "temporal", "scale": {"type": "utc", "domain": [1262304000000, 1277942400000]}, "axis": {"orient": "bottom", "title": null, "values": [1262304000000,1263168000000,1264032000000,1264982400000,1265846400000,1266710400000,1267401600000,1268265600000,1269129600000,1270080000000,1270944000000,1271808000000,1272672000000,1273536000000,1274400000000,1275350400000,1276214400000,1277078400000,1277942400000], "labelExpr": "utcdate(datum.value) == 1 ? utcFormat(datum.value, '%b') : ''"}},
      "y": {"field": "v", "type": "quantitative", "scale": {"domain": [0, 300], "nice": false}, "axis": {"orient": "left", "title": null, "values": [0,50,100,150,200,250,300]}}}},
    {"mark": {"type": "line", "opacity": 0}, "encoding": {
      "x": {"field": "t", "type": "temporal", "axis": {"orient": "top", "title": null, "labels": false, "values": [1262304000000,1263168000000,1264032000000,1264982400000,1265846400000,1266710400000,1267401600000,1268265600000,1269129600000,1270080000000,1270944000000,1271808000000,1272672000000,1273536000000,1274400000000,1275350400000,1276214400000,1277078400000,1277942400000]}},
      "y": {"field": "v", "type": "quantitative", "axis": {"orient": "right", "title": null, "labels": false, "values": [0,50,100,150,200,250,300]}}}}
   ],
   "resolve": {"axis": {"x": "independent", "y": "independent"}}}
  ]}
 ],
 "config": {
  "view": {"stroke": "#000000", "strokeWidth": 1},
  "axis": {"domain": false, "grid": false, "ticks": true, "tickSize": -4, "tickColor": "#000000", "tickWidth": 1, "labelFont": "DejaVu Sans", "labelFontSize": 12, "labelColor": "#222222", "labelPadding": 10, "labelFlush": false, "labelOverlap": false, "minExtent": 0},
  "axisX": {"labelPadding": 11},
  "axisY": {"format": "d", "minExtent": 0},
  "line": {"color": "#ff0000", "strokeWidth": 1},
  "title": {"font": "Liberation Serif, DejaVu Serif, serif", "fontSize": 25, "fontWeight": "normal", "color": "#000000", "orient": "bottom", "anchor": "middle", "frame": "bounds", "offset": 20, "dx": -4}
 }
}
